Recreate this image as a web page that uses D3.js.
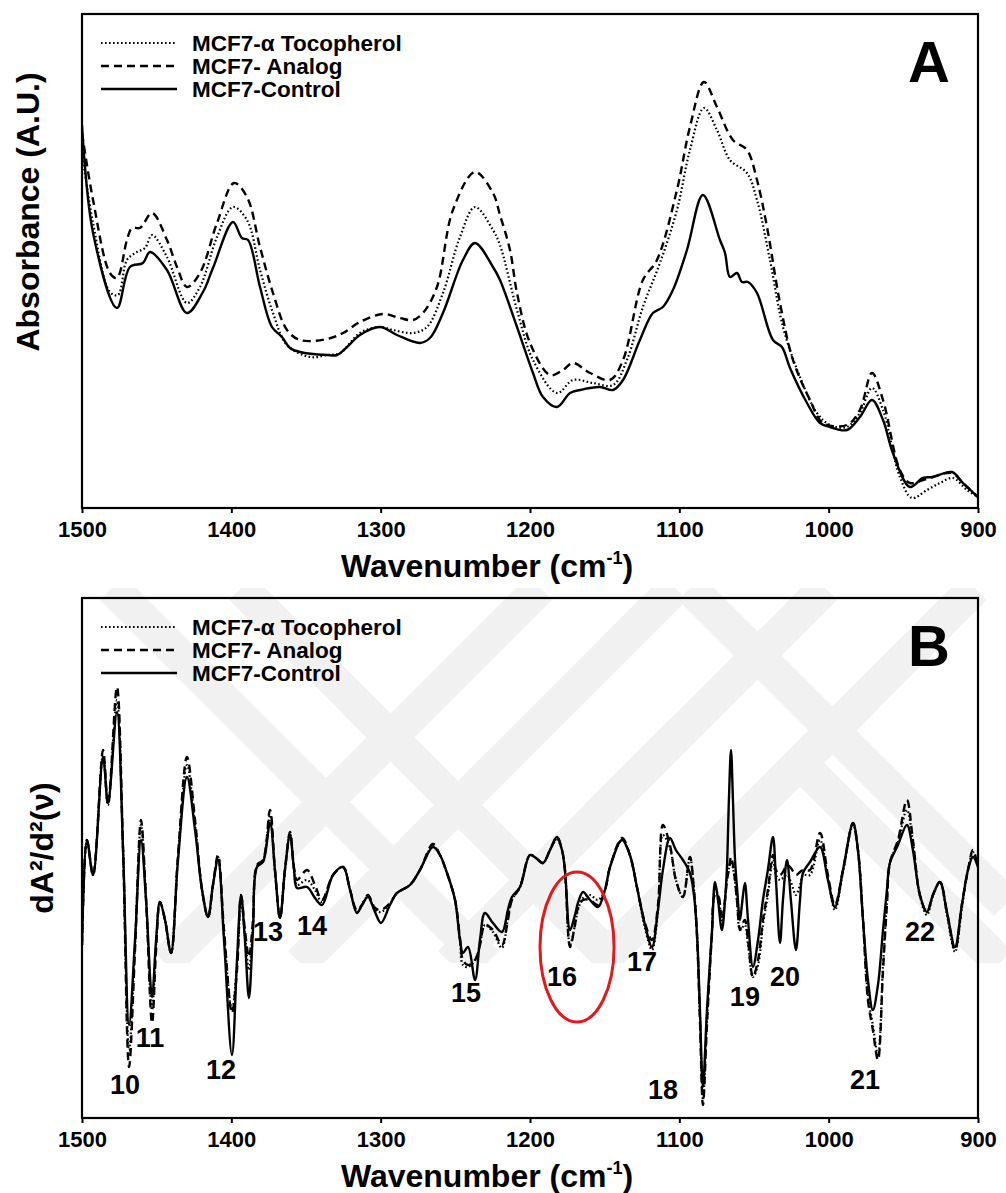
<!DOCTYPE html>
<html><head><meta charset="utf-8">
<script src="https://cdn.jsdelivr.net/npm/d3@7"></script>
<style>
body{margin:0;background:#fff;}
svg{display:block;}
text{font-family:"Liberation Sans",Arial,Helvetica,sans-serif;font-weight:bold;fill:#000;}
</style>
</head><body>
<svg id="chart" width="1006" height="1193"></svg>
<script>
// ---------------- DATA ----------------
const seriesNames = ["MCF7-\u03b1 Tocopherol", "MCF7- Analog", "MCF7-Control"];
const xTicks = [1500, 1400, 1300, 1200, 1100, 1000, 900];

// Panel A : absorbance spectra
const aControlWave = [1500,1492.6,1476.6,1467.9,1459.2,1454.5,1443.1,1429.7,1419.0,1412.3,1398.9,1392.9,1388.8,1380.8,1372.8,1366.1,1360.7,1354.0,1335.9,1329.2,1322.5,1313.9,1300.5,1289.1,1273.7,1267.0,1258.3,1244.9,1236.8,1224.8,1220.1,1208.7,1198.0,1191.3,1181.9,1173.2,1166.5,1153.1,1144.4,1137.7,1126.4,1117.7,1111.0,1104.3,1094.9,1084.2,1072.8,1069.4,1066.1,1061.4,1058.1,1054.0,1048.0,1037.3,1031.3,1025.9,1014.5,1005.8,999.1,987.8,979.1,971.0,963.6,957.0,945.6,936.9,930.2,917.4,910.1,900];
const aControlAbs = [0.383,0.275,0.200,0.241,0.245,0.256,0.238,0.195,0.216,0.240,0.286,0.270,0.268,0.221,0.181,0.171,0.160,0.156,0.153,0.153,0.161,0.173,0.181,0.173,0.165,0.170,0.195,0.248,0.265,0.241,0.228,0.181,0.135,0.111,0.101,0.115,0.118,0.121,0.118,0.128,0.168,0.195,0.201,0.218,0.258,0.313,0.268,0.255,0.231,0.235,0.226,0.226,0.215,0.168,0.161,0.140,0.105,0.085,0.081,0.078,0.091,0.108,0.088,0.055,0.021,0.030,0.031,0.036,0.025,0.011];

const aAnalogWave = [1500,1492.6,1481.3,1476.6,1469.9,1466.5,1461.2,1453.1,1443.1,1436.4,1429.7,1421.0,1409.6,1398.2,1389.5,1380.8,1372.1,1362.7,1354.0,1335.9,1325.2,1313.9,1298.5,1287.1,1278.4,1271.7,1262.3,1251.6,1236.8,1224.8,1220.1,1213.4,1208.7,1200.0,1186.6,1177.9,1171.2,1159.8,1146.4,1137.7,1124.4,1115.0,1101.6,1092.9,1083.5,1074.8,1064.1,1054.7,1048.0,1041.3,1032.6,1023.9,1012.5,1003.8,987.8,979.1,971.0,963.6,952.3,945.6,936.9,930.2,917.4,910.1,900];
const aAnalogAbs = [0.375,0.308,0.235,0.230,0.268,0.280,0.280,0.295,0.268,0.241,0.221,0.235,0.285,0.325,0.311,0.261,0.215,0.178,0.168,0.169,0.175,0.186,0.194,0.190,0.188,0.195,0.221,0.298,0.336,0.315,0.293,0.258,0.215,0.165,0.133,0.138,0.145,0.135,0.128,0.148,0.228,0.248,0.318,0.381,0.426,0.401,0.368,0.358,0.328,0.281,0.205,0.148,0.108,0.085,0.083,0.098,0.135,0.108,0.038,0.025,0.028,0.031,0.035,0.025,0.011];

const aTocoWave = [1500,1492.6,1481.3,1475.9,1469.9,1463.2,1457.8,1453.1,1443.1,1429.7,1421.0,1409.6,1398.9,1389.5,1380.8,1372.1,1362.7,1347.3,1335.9,1327.2,1313.9,1300.5,1291.8,1278.4,1269.0,1258.3,1246.9,1236.8,1224.8,1220.1,1208.7,1198.0,1181.9,1171.2,1157.8,1144.4,1135.1,1124.4,1113.0,1101.6,1092.9,1083.5,1074.8,1066.1,1054.7,1048.0,1039.3,1030.6,1019.2,1007.8,999.1,987.8,979.1,971.0,963.6,952.3,944.2,934.2,925.5,916.8,907.4,900];
const aTocoAbs = [0.355,0.285,0.216,0.213,0.248,0.256,0.260,0.273,0.251,0.205,0.221,0.271,0.301,0.288,0.238,0.195,0.163,0.151,0.153,0.155,0.175,0.181,0.178,0.175,0.181,0.215,0.271,0.301,0.278,0.263,0.198,0.148,0.115,0.128,0.125,0.123,0.148,0.201,0.245,0.298,0.358,0.400,0.378,0.348,0.335,0.308,0.248,0.181,0.131,0.095,0.083,0.081,0.095,0.120,0.098,0.031,0.010,0.018,0.025,0.030,0.018,0.011];

// Panel B : second-derivative spectra (shared wavenumber grid)
const bWave = [1500,1496.7,1492.6,1485.9,1482.6,1476.6,1472.5,1468.5,1464.5,1460.5,1457.1,1453.1,1450.4,1447.8,1444.4,1440.4,1435.7,1429.7,1424.3,1419.6,1415.6,1412.3,1408.9,1404.9,1399.6,1396.2,1393.5,1390.9,1388.2,1385.5,1382.8,1378.8,1374.1,1370.8,1367.4,1364.1,1360.7,1358.0,1356.0,1349.3,1344.0,1339.3,1331.9,1325.2,1320.5,1315.9,1312.5,1308.5,1303.8,1299.8,1293.8,1289.1,1280.4,1273.7,1265.0,1260.3,1255.6,1250.2,1246.9,1244.9,1241.5,1236.8,1233.5,1230.2,1224.8,1218.8,1214.8,1212.1,1206.7,1200.0,1196.0,1191.3,1186.6,1181.9,1178.6,1176.6,1173.2,1169.9,1167.9,1164.5,1159.8,1154.5,1149.8,1146.4,1138.4,1133.1,1128.4,1123.0,1118.3,1114.3,1111.0,1106.3,1102.3,1097.6,1092.9,1090.2,1088.2,1086.2,1084.2,1081.5,1078.2,1076.1,1074.1,1071.5,1069.4,1068.1,1066.8,1065.4,1064.1,1062.7,1061.4,1059.4,1058.1,1056.1,1054.0,1050.7,1047.3,1044.0,1040.7,1037.3,1035.3,1032.6,1030.6,1027.9,1025.3,1021.9,1019.2,1017.2,1012.5,1005.8,1000.5,995.8,990.4,983.7,980.4,977.0,973.7,970.4,967.0,963.6,961.0,959.0,953.6,947.6,943.6,938.9,934.2,930.2,925.5,920.8,915.4,910.8,906.7,903.4,900];
const bControl = [
-0.085,0.020,-0.015,0.103,0.057, 0.148,0.010,-0.165,-0.080,0.020,
-0.040,-0.137,-0.080,-0.042,-0.060, -0.093,0.000,0.083,0.030,-0.030,
-0.057,-0.025,0.000,-0.080,-0.195, -0.100,-0.035,-0.080,-0.138,-0.070,
-0.007,-0.002,0.037,-0.010,-0.058, -0.010,0.025,-0.010,-0.028,-0.027,
-0.038,-0.045,-0.015,-0.007,-0.030, -0.053,-0.045,-0.037,-0.052,-0.063,
-0.045,-0.033,-0.025,-0.010,0.013, 0.005,-0.013,-0.040,-0.080,-0.093,
-0.087,-0.120,-0.080,-0.053,-0.063, -0.072,-0.050,-0.037,-0.027,0.005,
0.002,-0.003,0.010,0.023,0.010, -0.010,-0.070,-0.055,-0.043,-0.032,
-0.040,-0.047,-0.030,-0.007,0.020, 0.005,-0.027,-0.065,-0.087,-0.050,
-0.010,0.022,0.010,0.000,-0.013, -0.035,-0.073,-0.150,-0.227,-0.150,
-0.073,-0.022,-0.040,-0.070,-0.040, -0.007,0.060,0.110,0.060,0.000,
-0.027,-0.060,-0.045,-0.023,-0.060, -0.107,-0.080,-0.040,-0.010,0.023,
-0.020,-0.083,-0.040,0.000,-0.040, -0.090,-0.040,-0.013,-0.002,0.013,
-0.020,-0.047,-0.010,0.037,0.010, -0.060,-0.120,-0.150,-0.125,-0.070,
-0.030,-0.003,0.015,0.035,0.010, -0.035,-0.052,-0.035,-0.022,-0.052,
-0.087,-0.045,-0.010,0.003,-0.007];
const bAnalog = [
-0.085,0.020,-0.015,0.110,0.055, 0.173,0.010,-0.207,-0.090,0.040,
-0.040,-0.163,-0.090,-0.042,-0.060, -0.093,0.005,0.103,0.040,-0.030,
-0.057,-0.025,0.005,-0.070,-0.153, -0.110,-0.035,-0.070,-0.097,-0.060,
-0.005,0.000,0.050,-0.010,-0.058, -0.010,0.028,-0.008,-0.020,-0.010,
-0.025,-0.040,-0.015,-0.007,-0.030, -0.050,-0.045,-0.035,-0.048,-0.050,
-0.043,-0.033,-0.025,-0.010,0.016, 0.005,-0.013,-0.040,-0.078,-0.100,
-0.105,-0.100,-0.085,-0.065,-0.070, -0.085,-0.060,-0.040,-0.027,0.005,
0.002,-0.003,0.010,0.023,0.010, -0.010,-0.087,-0.065,-0.048,-0.040,
-0.040,-0.045,-0.030,-0.007,0.022, 0.005,-0.027,-0.063,-0.080,-0.045,
0.035,0.015,-0.020,-0.037,0.003, -0.030,-0.075,-0.160,-0.245,-0.165,
-0.075,-0.035,-0.035,-0.060,-0.040, -0.020,-0.010,0.003,-0.005,-0.020,
-0.040,-0.070,-0.065,-0.060,-0.080, -0.117,-0.100,-0.060,-0.030,0.005,
-0.010,-0.015,-0.012,-0.005,-0.008, -0.015,-0.012,-0.010,-0.010,0.027,
-0.015,-0.045,-0.010,0.037,0.010, -0.060,-0.140,-0.170,-0.200,-0.110,
-0.045,-0.003,0.020,0.060,0.020, -0.035,-0.052,-0.035,-0.022,-0.052,
-0.090,-0.045,-0.010,0.010,-0.007];
const bToco = [
-0.085,0.020,-0.015,0.105,0.055, 0.160,0.010,-0.190,-0.085,0.035,
-0.040,-0.150,-0.085,-0.042,-0.060, -0.093,0.003,0.095,0.035,-0.030,
-0.057,-0.025,0.003,-0.075,-0.150, -0.105,-0.040,-0.075,-0.110,-0.065,
-0.006,-0.001,0.045,-0.010,-0.058, -0.010,0.026,-0.010,-0.025,-0.020,
-0.030,-0.042,-0.015,-0.007,-0.030, -0.052,-0.045,-0.036,-0.050,-0.052,
-0.044,-0.033,-0.025,-0.010,0.014, 0.005,-0.013,-0.040,-0.080,-0.105,
-0.107,-0.100,-0.085,-0.065,-0.072, -0.088,-0.058,-0.040,-0.027,0.005,
0.002,-0.003,0.010,0.020,0.010, -0.010,-0.085,-0.065,-0.050,-0.038,
-0.035,-0.040,-0.030,-0.007,0.020, 0.005,-0.027,-0.068,-0.090,-0.050,
0.025,0.012,-0.020,-0.037,0.003, -0.030,-0.073,-0.155,-0.240,-0.160,
-0.073,-0.030,-0.035,-0.060,-0.040, -0.018,-0.008,0.000,-0.008,-0.022,
-0.042,-0.070,-0.068,-0.065,-0.085, -0.117,-0.105,-0.065,-0.035,0.000,
-0.015,-0.020,-0.018,-0.015,-0.022, -0.035,-0.025,-0.015,-0.015,0.020,
-0.018,-0.050,-0.012,0.035,0.010, -0.060,-0.135,-0.165,-0.195,-0.105,
-0.042,-0.003,0.018,0.050,0.018, -0.036,-0.055,-0.036,-0.022,-0.055,
-0.092,-0.048,-0.010,0.008,-0.007];

// Band labels in panel B
const bandLabels = ["10","11","12","13","14","15","16","17","18","19","20","21","22"];
const bandLabelWave = [1471.2,1454.5,1406.9,1375.4,1346.0,1242.9,1178.6,1125.0,1110.9,1056.1,1029.3,975.7,938.9];
const bandLabelVal = [-0.225,-0.178,-0.210,-0.072,-0.066,-0.133,-0.117,-0.102,-0.230,-0.137,-0.117,-0.220,-0.072];

// Highlight ellipse around band 16
const highlightWave = 1168.5, highlightHalfWave = 24.8;
const highlightVal = -0.087, highlightHalfVal = 0.075;

// ---------------- DRAWING ----------------
const svg = d3.select("#chart");
const L = 82, R = 978;
const PA = {top: 14, bottom: 508};
const PB = {top: 598, bottom: 1118};
const x = d3.scaleLinear().domain([1500, 900]).range([L, R]);
const yA = d3.scaleLinear().domain([0, 0.494]).range([PA.bottom, PA.top]);
const yB = d3.scaleLinear().domain([-0.258, 0.262]).range([PB.bottom, PB.top]);

const styles = [
  {dash: "1.6,2.4", width: 2.2},
  {dash: "8,5", width: 2.4},
  {dash: null, width: 2.4}
];

// Watermark (very light grey diagonal bands)
const wmBands = [
  [[112,588],[487,963]], [[241,588],[616,963]],
  [[165,963],[540,588]], [[300,963],[675,588]], [[450,963],[825,588]],
  [[690,588],[1006,904]], [[600,963],[975,588]], [[807,770],[1000,963]]
];
const defs = svg.append("defs");
defs.append("clipPath").attr("id","wmclip").append("rect")
  .attr("x",60).attr("y",588).attr("width",946).attr("height",375);
const wm = svg.append("g").attr("clip-path","url(#wmclip)");
wm.selectAll("line").data(wmBands).join("line")
  .attr("x1",d=>d[0][0]).attr("y1",d=>d[0][1]).attr("x2",d=>d[1][0]).attr("y2",d=>d[1][1])
  .attr("stroke","#f1f1f1").attr("stroke-width",34);

function panel(P, y, series, id, letter, yTitle, yTitleX, yTitleY) {
  defs.append("clipPath").attr("id", id).append("rect")
    .attr("x", L).attr("y", P.top).attr("width", R - L).attr("height", P.bottom - P.top);
  const g = svg.append("g");
  const line = d3.line().x(d => x(d[0])).y(d => y(d[1])).curve(d3.curveCatmullRom.alpha(0.5));
  const lg = g.append("g").attr("clip-path", `url(#${id})`);
  series.forEach((s, i) => {
    lg.append("path").datum(s)
      .attr("d", line).attr("fill", "none").attr("stroke", "#000")
      .attr("stroke-width", styles[i].width)
      .attr("stroke-dasharray", styles[i].dash)
      .attr("stroke-linejoin", "round");
  });
  // frame
  g.append("rect").attr("x", L).attr("y", P.top).attr("width", R - L).attr("height", P.bottom - P.top)
    .attr("fill", "none").attr("stroke", "#000").attr("stroke-width", 2.2);
  // x axis
  const ax = g.append("g").attr("transform", `translate(0,${P.bottom})`)
    .call(d3.axisBottom(x).tickValues(xTicks).tickFormat(d3.format("d")).tickSize(5).tickSizeOuter(0).tickPadding(8));
  ax.select(".domain").remove();
  ax.selectAll("line").attr("stroke", "#000").attr("stroke-width", 2);
  ax.selectAll("text").attr("font-size", 22).style("font-family", '"Liberation Sans",Arial,sans-serif').style("font-weight", "bold");
  // x title
  const xt = g.append("text").attr("x", 487).attr("y", P.bottom + 69).attr("text-anchor", "middle").attr("font-size", 32);
  xt.append("tspan").text("Wavenumber (cm");
  xt.append("tspan").text("-1").attr("font-size", 18).attr("dy", -13);
  xt.append("tspan").text(")").attr("dy", 13);
  // y title
  g.append("text").attr("transform", `translate(${yTitleX},${yTitleY}) rotate(-90)`)
    .attr("text-anchor", "middle").attr("dominant-baseline", "central").attr("font-size", 32).text(yTitle);
  // legend
  const legY = [P.top + 29, P.top + 52, P.top + 75];
  seriesNames.forEach((n, i) => {
    g.append("line").attr("x1", L + 19).attr("x2", L + 95).attr("y1", legY[i]).attr("y2", legY[i])
      .attr("stroke", "#000").attr("stroke-width", styles[i].width).attr("stroke-dasharray", styles[i].dash);
    g.append("text").attr("x", L + 110).attr("y", legY[i] + 7.5).attr("font-size", 22.5).text(n);
  });
  // panel letter
  g.append("text").attr("x", R - 49).attr("y", P.top + 68).attr("text-anchor", "middle").attr("font-size", 58).text(letter);
  return g;
}

const zip = (w, v) => w.map((d, i) => [d, v[i]]);
panel(PA, yA, [zip(aTocoWave, aTocoAbs), zip(aAnalogWave, aAnalogAbs), zip(aControlWave, aControlAbs)],
      "clipA", "A", "Absorbance (A.U.)", 28, 212);
const gB = panel(PB, yB, [zip(bWave, bToco), zip(bWave, bAnalog), zip(bWave, bControl)],
      "clipB", "B", "dA\u00b2/d\u00b2(\u03bd)", 42, 848);

// band labels
gB.selectAll("text.band").data(bandLabels).join("text").attr("class", "band")
  .attr("x", (d, i) => x(bandLabelWave[i])).attr("y", (d, i) => yB(bandLabelVal[i]))
  .attr("text-anchor", "middle").attr("dominant-baseline", "central").attr("font-size", 27).text(d => d);

// highlight ellipse
gB.append("ellipse")
  .attr("cx", x(highlightWave)).attr("cy", yB(highlightVal))
  .attr("rx", Math.abs(x(highlightWave - highlightHalfWave) - x(highlightWave)))
  .attr("ry", Math.abs(yB(highlightVal - highlightHalfVal) - yB(highlightVal)))
  .attr("fill", "none").attr("stroke", "#e31a1c").attr("stroke-width", 3);
</script>
</body></html>
